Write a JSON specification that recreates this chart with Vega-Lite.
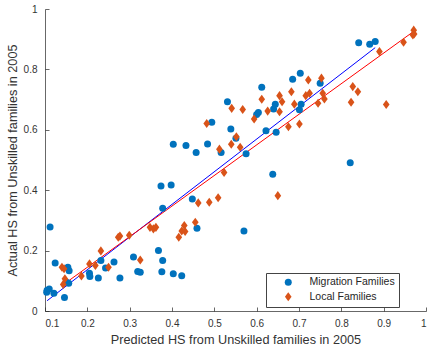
{
  "$schema": "https://vega.github.io/schema/vega-lite/v6.json",
  "width": 381,
  "height": 302,
  "autosize": {"type": "none"},
  "padding": {"left": 45, "top": 9, "right": 2, "bottom": 41},
  "background": "white",
  "config": {
    "view": {"stroke": null},
    "font": "Liberation Sans",
    "axis": {
      "grid": false,
      "domainColor": "#262626",
      "domainWidth": 0.7,
      "tickColor": "#262626",
      "tickWidth": 0.7,
      "tickSize": -4,
      "labelColor": "#333333",
      "titleColor": "#333333",
      "labelFont": "Liberation Sans",
      "titleFont": "Liberation Sans",
      "labelFontSize": 10,
      "titleFontSize": 12.7,
      "titleFontWeight": "normal"
    }
  },
  "datasets": {
    "points": [
      {"x": 0.112, "y": 0.278, "group": "Migration Families"},
      {"x": 0.124, "y": 0.159, "group": "Migration Families"},
      {"x": 0.105, "y": 0.069, "group": "Migration Families"},
      {"x": 0.110, "y": 0.073, "group": "Migration Families"},
      {"x": 0.104, "y": 0.062, "group": "Migration Families"},
      {"x": 0.121, "y": 0.059, "group": "Migration Families"},
      {"x": 0.146, "y": 0.045, "group": "Migration Families"},
      {"x": 0.154, "y": 0.145, "group": "Migration Families"},
      {"x": 0.157, "y": 0.133, "group": "Migration Families"},
      {"x": 0.151, "y": 0.095, "group": "Migration Families"},
      {"x": 0.156, "y": 0.092, "group": "Migration Families"},
      {"x": 0.205, "y": 0.125, "group": "Migration Families"},
      {"x": 0.206, "y": 0.114, "group": "Migration Families"},
      {"x": 0.226, "y": 0.109, "group": "Migration Families"},
      {"x": 0.232, "y": 0.167, "group": "Migration Families"},
      {"x": 0.243, "y": 0.142, "group": "Migration Families"},
      {"x": 0.263, "y": 0.162, "group": "Migration Families"},
      {"x": 0.277, "y": 0.109, "group": "Migration Families"},
      {"x": 0.309, "y": 0.179, "group": "Migration Families"},
      {"x": 0.319, "y": 0.131, "group": "Migration Families"},
      {"x": 0.325, "y": 0.128, "group": "Migration Families"},
      {"x": 0.368, "y": 0.200, "group": "Migration Families"},
      {"x": 0.378, "y": 0.167, "group": "Migration Families"},
      {"x": 0.376, "y": 0.130, "group": "Migration Families"},
      {"x": 0.403, "y": 0.123, "group": "Migration Families"},
      {"x": 0.423, "y": 0.117, "group": "Migration Families"},
      {"x": 0.374, "y": 0.414, "group": "Migration Families"},
      {"x": 0.398, "y": 0.417, "group": "Migration Families"},
      {"x": 0.378, "y": 0.340, "group": "Migration Families"},
      {"x": 0.448, "y": 0.371, "group": "Migration Families"},
      {"x": 0.459, "y": 0.274, "group": "Migration Families"},
      {"x": 0.403, "y": 0.552, "group": "Migration Families"},
      {"x": 0.433, "y": 0.548, "group": "Migration Families"},
      {"x": 0.457, "y": 0.525, "group": "Migration Families"},
      {"x": 0.484, "y": 0.553, "group": "Migration Families"},
      {"x": 0.494, "y": 0.625, "group": "Migration Families"},
      {"x": 0.516, "y": 0.525, "group": "Migration Families"},
      {"x": 0.531, "y": 0.693, "group": "Migration Families"},
      {"x": 0.539, "y": 0.603, "group": "Migration Families"},
      {"x": 0.551, "y": 0.572, "group": "Migration Families"},
      {"x": 0.575, "y": 0.521, "group": "Migration Families"},
      {"x": 0.570, "y": 0.265, "group": "Migration Families"},
      {"x": 0.612, "y": 0.741, "group": "Migration Families"},
      {"x": 0.600, "y": 0.651, "group": "Migration Families"},
      {"x": 0.604, "y": 0.657, "group": "Migration Families"},
      {"x": 0.640, "y": 0.669, "group": "Migration Families"},
      {"x": 0.644, "y": 0.685, "group": "Migration Families"},
      {"x": 0.622, "y": 0.597, "group": "Migration Families"},
      {"x": 0.646, "y": 0.592, "group": "Migration Families"},
      {"x": 0.638, "y": 0.453, "group": "Migration Families"},
      {"x": 0.685, "y": 0.767, "group": "Migration Families"},
      {"x": 0.703, "y": 0.787, "group": "Migration Families"},
      {"x": 0.705, "y": 0.685, "group": "Migration Families"},
      {"x": 0.701, "y": 0.666, "group": "Migration Families"},
      {"x": 0.750, "y": 0.754, "group": "Migration Families"},
      {"x": 0.821, "y": 0.491, "group": "Migration Families"},
      {"x": 0.841, "y": 0.888, "group": "Migration Families"},
      {"x": 0.867, "y": 0.883, "group": "Migration Families"},
      {"x": 0.880, "y": 0.892, "group": "Migration Families"},
      {"x": 0.140, "y": 0.145, "group": "Local Families"},
      {"x": 0.145, "y": 0.140, "group": "Local Families"},
      {"x": 0.147, "y": 0.107, "group": "Local Families"},
      {"x": 0.143, "y": 0.088, "group": "Local Families"},
      {"x": 0.186, "y": 0.116, "group": "Local Families"},
      {"x": 0.205, "y": 0.156, "group": "Local Families"},
      {"x": 0.219, "y": 0.151, "group": "Local Families"},
      {"x": 0.232, "y": 0.199, "group": "Local Families"},
      {"x": 0.250, "y": 0.145, "group": "Local Families"},
      {"x": 0.273, "y": 0.244, "group": "Local Families"},
      {"x": 0.277, "y": 0.248, "group": "Local Families"},
      {"x": 0.299, "y": 0.251, "group": "Local Families"},
      {"x": 0.325, "y": 0.169, "group": "Local Families"},
      {"x": 0.348, "y": 0.277, "group": "Local Families"},
      {"x": 0.356, "y": 0.272, "group": "Local Families"},
      {"x": 0.362, "y": 0.277, "group": "Local Families"},
      {"x": 0.416, "y": 0.244, "group": "Local Families"},
      {"x": 0.423, "y": 0.265, "group": "Local Families"},
      {"x": 0.431, "y": 0.263, "group": "Local Families"},
      {"x": 0.429, "y": 0.283, "group": "Local Families"},
      {"x": 0.455, "y": 0.294, "group": "Local Families"},
      {"x": 0.462, "y": 0.358, "group": "Local Families"},
      {"x": 0.488, "y": 0.360, "group": "Local Families"},
      {"x": 0.509, "y": 0.375, "group": "Local Families"},
      {"x": 0.482, "y": 0.621, "group": "Local Families"},
      {"x": 0.512, "y": 0.536, "group": "Local Families"},
      {"x": 0.523, "y": 0.459, "group": "Local Families"},
      {"x": 0.540, "y": 0.552, "group": "Local Families"},
      {"x": 0.552, "y": 0.577, "group": "Local Families"},
      {"x": 0.561, "y": 0.542, "group": "Local Families"},
      {"x": 0.541, "y": 0.671, "group": "Local Families"},
      {"x": 0.567, "y": 0.667, "group": "Local Families"},
      {"x": 0.594, "y": 0.636, "group": "Local Families"},
      {"x": 0.612, "y": 0.701, "group": "Local Families"},
      {"x": 0.626, "y": 0.662, "group": "Local Families"},
      {"x": 0.650, "y": 0.382, "group": "Local Families"},
      {"x": 0.654, "y": 0.713, "group": "Local Families"},
      {"x": 0.660, "y": 0.693, "group": "Local Families"},
      {"x": 0.654, "y": 0.660, "group": "Local Families"},
      {"x": 0.675, "y": 0.610, "group": "Local Families"},
      {"x": 0.682, "y": 0.726, "group": "Local Families"},
      {"x": 0.689, "y": 0.685, "group": "Local Families"},
      {"x": 0.701, "y": 0.619, "group": "Local Families"},
      {"x": 0.716, "y": 0.713, "group": "Local Families"},
      {"x": 0.725, "y": 0.721, "group": "Local Families"},
      {"x": 0.722, "y": 0.765, "group": "Local Families"},
      {"x": 0.745, "y": 0.688, "group": "Local Families"},
      {"x": 0.753, "y": 0.771, "group": "Local Families"},
      {"x": 0.756, "y": 0.721, "group": "Local Families"},
      {"x": 0.760, "y": 0.702, "group": "Local Families"},
      {"x": 0.823, "y": 0.691, "group": "Local Families"},
      {"x": 0.827, "y": 0.743, "group": "Local Families"},
      {"x": 0.839, "y": 0.726, "group": "Local Families"},
      {"x": 0.906, "y": 0.684, "group": "Local Families"},
      {"x": 0.890, "y": 0.859, "group": "Local Families"},
      {"x": 0.947, "y": 0.890, "group": "Local Families"},
      {"x": 0.971, "y": 0.930, "group": "Local Families"},
      {"x": 0.972, "y": 0.917, "group": "Local Families"},
      {"x": 0.969, "y": 0.914, "group": "Local Families"}
    ],
    "fits": [
      {"x": 0.105, "y": 0.034, "fit": "Migration fit"},
      {"x": 0.880, "y": 0.872, "fit": "Migration fit"},
      {"x": 0.139, "y": 0.083, "fit": "Local fit"},
      {"x": 0.975, "y": 0.930, "fit": "Local fit"}
    ]
  },
  "layer": [
    {
      "data": {"name": "fits"},
      "mark": {"type": "line", "strokeWidth": 1},
      "encoding": {
        "x": {"field": "x", "type": "quantitative", "scale": {"domain": [0.1, 1], "nice": false, "zero": false},
          "axis": {"values": [0.1, 0.2, 0.3, 0.4, 0.5, 0.6, 0.7, 0.8, 0.9, 1], "format": ".1~f", "title": "Predicted HS from Unskilled families in 2005", "labelPadding": 11, "titlePadding": 5}},
        "y": {"field": "y", "type": "quantitative", "scale": {"domain": [0, 1], "nice": false},
          "axis": {"values": [0, 0.1, 0.2, 0.3, 0.4, 0.5, 0.6, 0.7, 0.8, 0.9, 1], "format": ".1~f", "title": "Actual HS from Unskilled families in 2005", "labelPadding": 12, "titlePadding": 4}},
        "stroke": {"field": "fit", "type": "nominal", "scale": {"domain": ["Migration fit", "Local fit"], "range": ["#0000FF", "#FF0000"]}, "legend": null}
      }
    },
    {
      "data": {"name": "points"},
      "mark": {"type": "point", "filled": true, "opacity": 1, "size": 49},
      "encoding": {
        "x": {"field": "x", "type": "quantitative"},
        "y": {"field": "y", "type": "quantitative"},
        "color": {"field": "group", "type": "nominal",
          "scale": {"domain": ["Migration Families", "Local Families"], "range": ["#0072BD", "#D95319"]},
          "legend": {"title": null, "orient": "none", "legendX": 221, "legendY": 264, "direction": "vertical",
            "strokeColor": "#444444", "fillColor": "white", "padding": 4, "symbolOffset": 13, "labelOffset": 16,
            "labelFontSize": 10.5, "labelColor": "#262626", "labelFont": "Liberation Sans", "rowPadding": 3.5, "symbolSize": 49}},
        "shape": {"field": "group", "type": "nominal",
          "scale": {"domain": ["Migration Families", "Local Families"], "range": ["circle", "M0,-1.3L0.95,0L0,1.3L-0.95,0Z"]},
          "legend": {"title": null}}
      }
    }
  ]
}
